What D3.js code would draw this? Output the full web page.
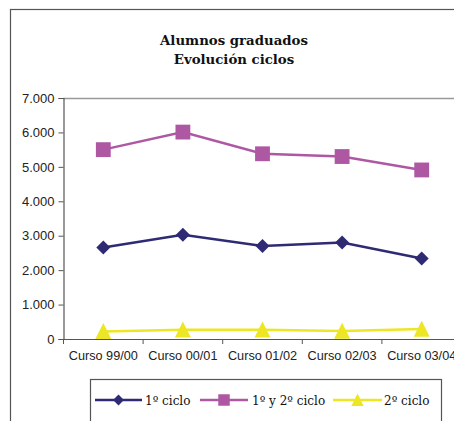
<!DOCTYPE html>
<html><head><meta charset="utf-8">
<script src="https://cdn.jsdelivr.net/npm/d3@7"></script>
<style>body{margin:0;background:#fff}svg{display:block}</style>
</head><body>
<script>
const categories = ["Curso 99/00","Curso 00/01","Curso 01/02","Curso 02/03","Curso 03/04"];
const ciclo1 = [2660, 3030, 2700, 2800, 2340];
const ciclo12 = [5500, 6010, 5380, 5300, 4910];
const ciclo2 = [220, 270, 270, 230, 290];
const yTicks = [0,1000,2000,3000,4000,5000,6000,7000];
const titleLines = ["Alumnos graduados","Evolución ciclos"];
const seriesNames = ["1º ciclo","1º y 2º ciclo","2º ciclo"];

(function(){
const W=454,H=421;
const svg=d3.select("body").append("svg").attr("width",W).attr("height",H);
svg.append("rect").attr("x",10.5).attr("y",9.5).attr("width",460).attr("height",430)
  .attr("fill","none").attr("stroke","#555").attr("stroke-width",1.2);

const pLeft=63.5, pRight=461.5, pTop=98, pBottom=339;
const x=d3.scaleBand().domain(categories).range([pLeft,pRight]);
const y=d3.scaleLinear().domain([0,7000]).range([pBottom,pTop]);

// title
svg.append("g").selectAll("text").data(titleLines).join("text")
  .attr("x",234).attr("y",(d,i)=>45+i*19).attr("text-anchor","middle")
  .attr("font-family","DejaVu Serif").attr("font-weight","bold").attr("font-size",13.3)
  .attr("fill","#111").text(d=>d);

// plot top border
svg.append("line").attr("x1",pLeft).attr("x2",pRight).attr("y1",pTop+0.5).attr("y2",pTop+0.5)
  .attr("stroke","#999").attr("stroke-width",1.5);

// y axis
const ya=svg.append("g").attr("transform",`translate(${pLeft},0)`)
  .call(d3.axisLeft(y).tickValues(yTicks).tickSize(5).tickPadding(4)
    .tickFormat(d=>d3.format(",")(d).replace(/,/g,".")));
ya.select(".domain").attr("stroke","#555").attr("stroke-width",1.2);
ya.selectAll(".tick line").attr("stroke","#555");
ya.selectAll("text").attr("font-family","Liberation Sans").attr("font-size",13).attr("fill","#222");

// x axis
const xa=svg.append("g").attr("transform",`translate(0,${pBottom})`)
  .call(d3.axisBottom(x).tickSize(0).tickPadding(12));
xa.select(".domain").attr("stroke","#555").attr("stroke-width",1.2);
xa.selectAll("text").attr("font-family","Liberation Sans").attr("font-size",12.7).attr("fill","#222");
xa.append("g").selectAll("line").data(categories.concat([null])).join("line")
  .attr("x1",(d,i)=>pLeft+i*x.step()).attr("x2",(d,i)=>pLeft+i*x.step())
  .attr("y1",0).attr("y2",5).attr("stroke","#555");

const cx=d=>x(d)+x.bandwidth()/2;
const diamond={draw(ctx,size){const r=Math.sqrt(size/2);ctx.moveTo(0,-r);ctx.lineTo(r,0);ctx.lineTo(0,r);ctx.lineTo(-r,0);ctx.closePath();}};
const tri={draw(ctx,size){const w=Math.sqrt(size);ctx.moveTo(0,-w*0.52);ctx.lineTo(w*0.5,w*0.48);ctx.lineTo(-w*0.5,w*0.48);ctx.closePath();}};
const series=[
  {name:seriesNames[0],vals:ciclo1,color:"#2E2A74",sym:diamond,size:98},
  {name:seriesNames[1],vals:ciclo12,color:"#AE58A4",sym:d3.symbolSquare,size:220},
  {name:seriesNames[2],vals:ciclo2,color:"#EDE625",sym:tri,size:256},
];
const line=d3.line().x((d,i)=>cx(categories[i])).y(d=>y(d));
series.forEach(s=>{
  svg.append("path").datum(s.vals).attr("d",line).attr("fill","none")
    .attr("stroke",s.color).attr("stroke-width",2.5);
  svg.append("g").selectAll("path").data(s.vals).join("path")
    .attr("d",d3.symbol(s.sym,s.size)).attr("fill",s.color)
    .attr("transform",(d,i)=>`translate(${cx(categories[i])},${y(d)})`);
});

// legend
svg.append("rect").attr("x",90.5).attr("y",379.5).attr("width",351).attr("height",60)
  .attr("fill","#fff").attr("stroke","#555").attr("stroke-width",1.2);
const lx=[[95,142],[200,248],[333,382]];
const tx=[145,252,384];
series.forEach((s,i)=>{
  svg.append("line").attr("x1",lx[i][0]).attr("x2",lx[i][1]).attr("y1",400).attr("y2",400)
    .attr("stroke",s.color).attr("stroke-width",2.5);
  svg.append("path").attr("d",d3.symbol(s.sym,s.size*0.6)).attr("fill",s.color)
    .attr("transform",`translate(${(lx[i][0]+lx[i][1])/2},400)`);
  svg.append("text").attr("x",tx[i]).attr("y",404.5).attr("font-family","DejaVu Serif")
    .attr("font-size",12).attr("fill","#111").text(s.name);
});
})();
</script>
</body></html>
